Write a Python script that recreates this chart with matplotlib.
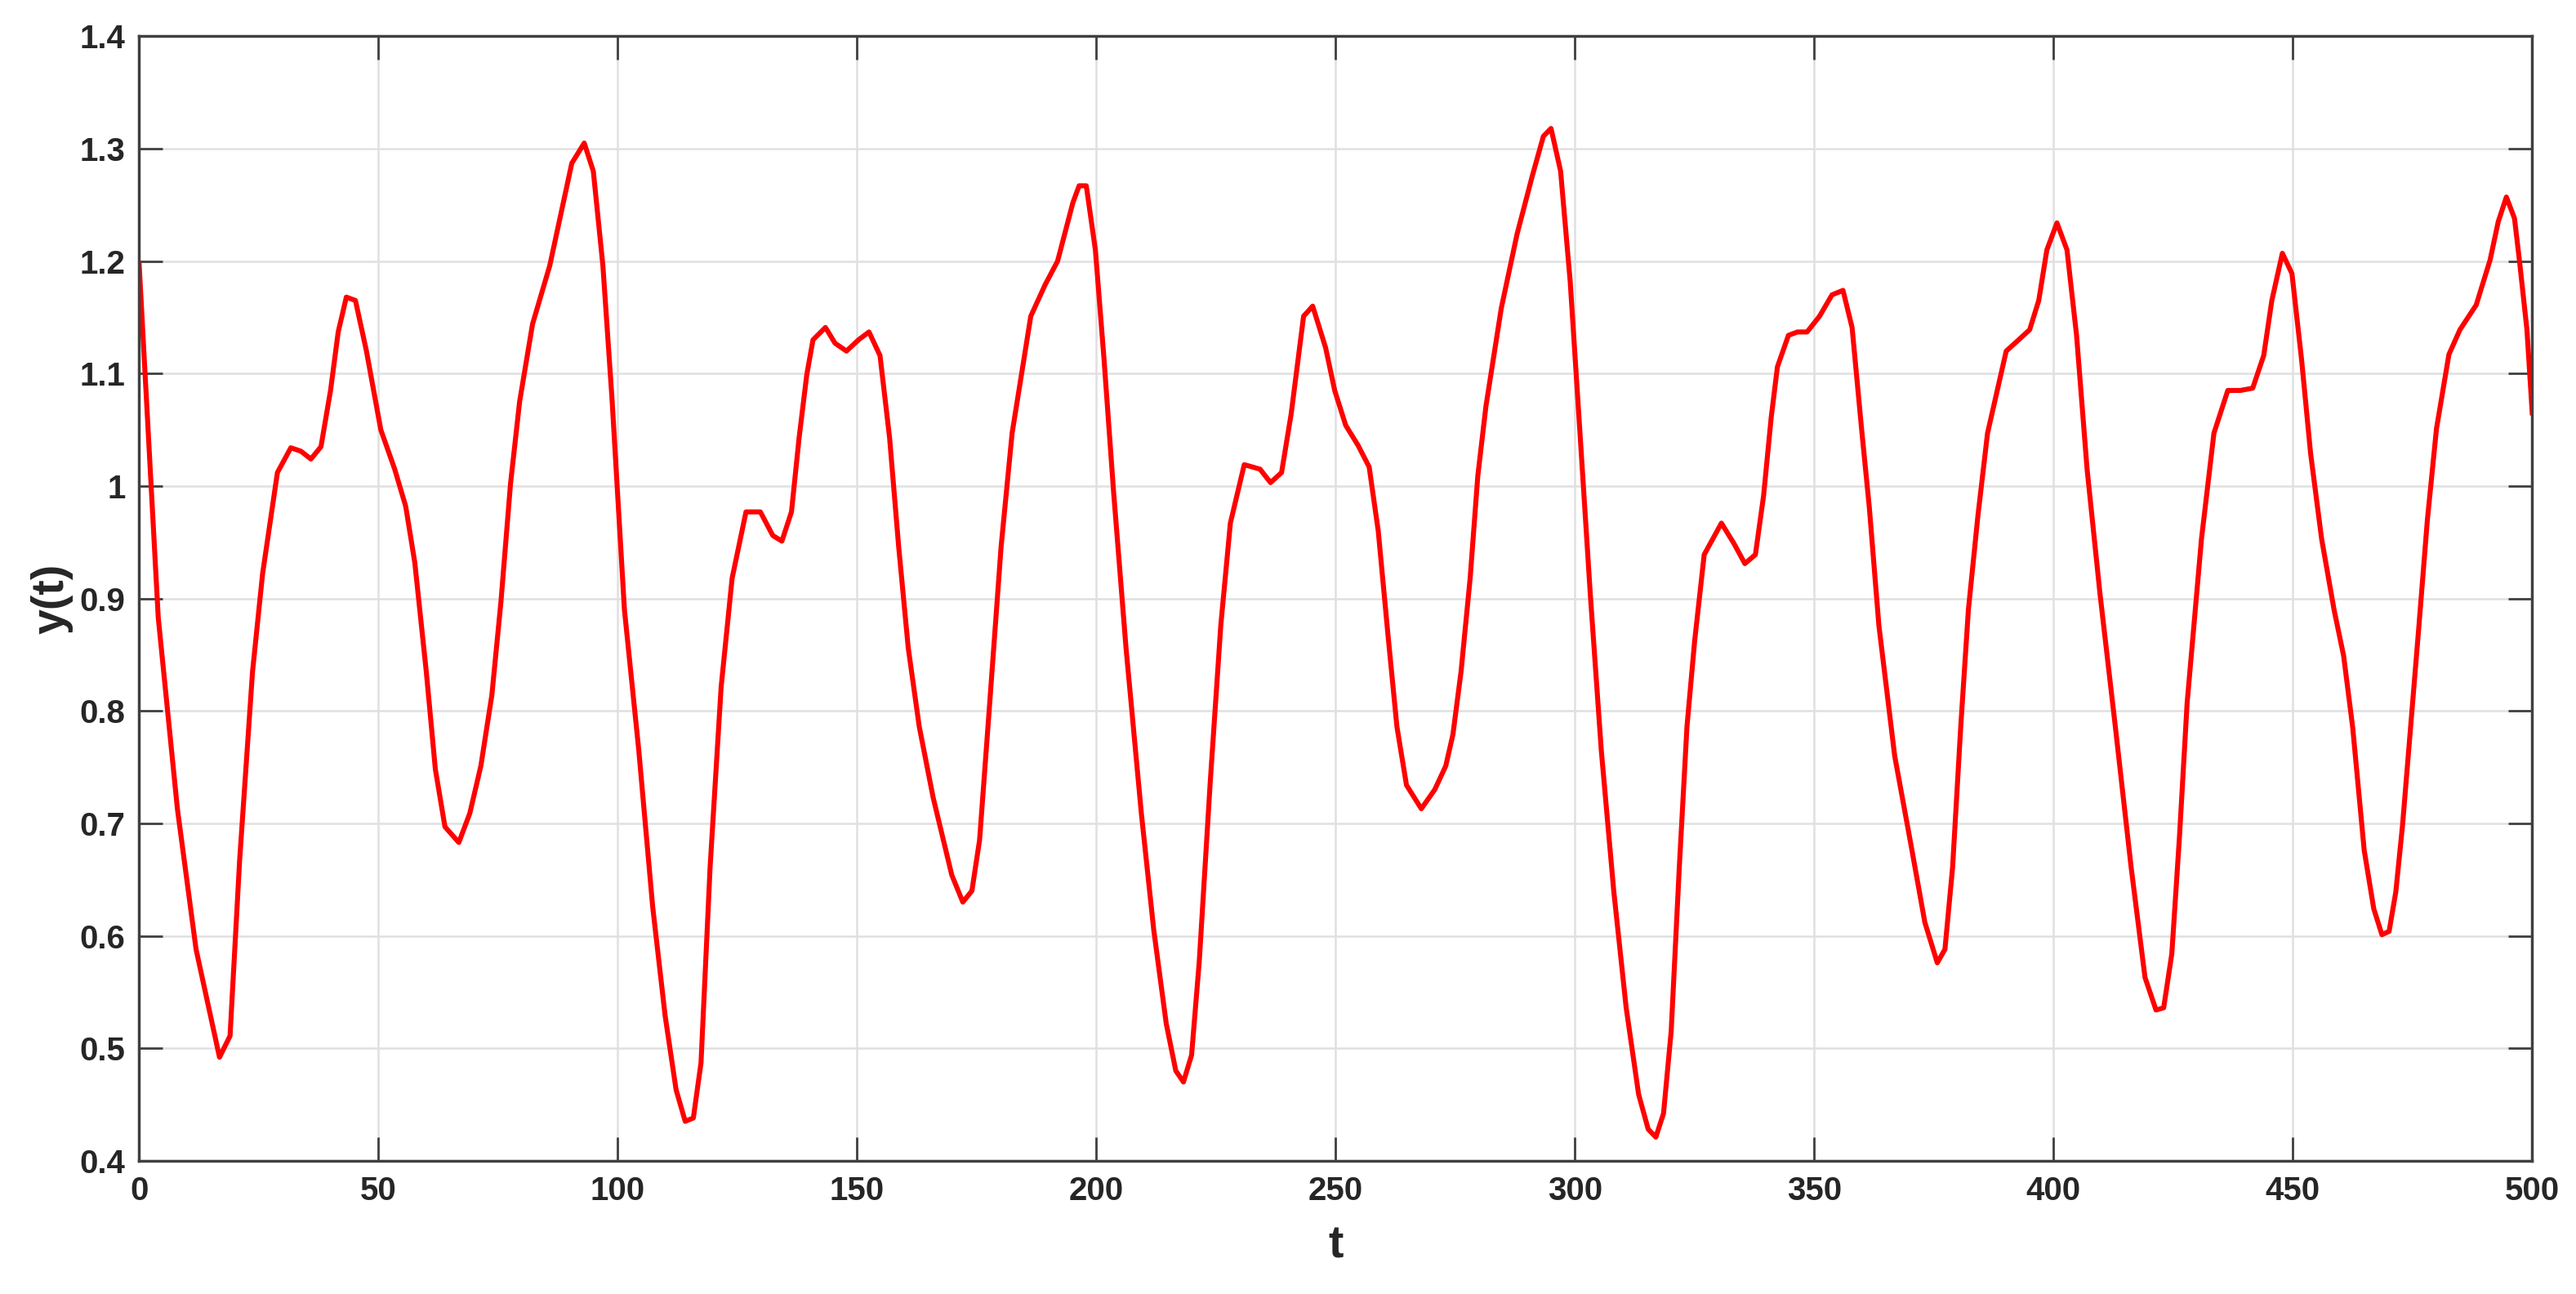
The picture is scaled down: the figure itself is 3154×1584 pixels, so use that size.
import matplotlib
matplotlib.use("Agg")
import matplotlib.pyplot as plt
import numpy as np

# values
t = [0, 4, 8, 11.9, 16.8, 19, 21, 23.7, 25.8, 28.9, 31.7, 33.8, 35.9, 38, 40, 41.6, 43.3, 45.2,
     47.5, 50.5, 53.4, 55.7, 57.6, 60, 61.9, 63.9, 66.8, 69.1, 71.4, 73.7, 75.6, 77.6, 79.5, 82.2,
     85.8, 90.4, 93, 94.9, 96.9, 98.8, 101.4, 104.4, 107.3, 109.9, 112.2, 114.1, 115.8, 117.4,
     119.3, 121.6, 123.9, 126.8, 129.8, 132.4, 134.3, 136.3, 137.9, 139.5, 140.8, 143.4, 145.4,
     147.8, 150.3, 152.5, 154.8, 156.8, 158.7, 160.7, 163, 165.9, 169.8, 172.1, 174, 175.6, 177.6,
     180.1, 182.4, 186.3, 189.3, 191.9, 195.1, 196.4, 197.9, 199.8, 201.6, 203.6, 206.2, 209.4,
     212, 214.6, 216.6, 218.2, 219.9, 221.5, 223.8, 226, 228, 230.9, 234.2, 236.4, 238.7, 240.7,
     243.3, 245.2, 247.9, 249.8, 252.1, 254.7, 257, 258.9, 260.9, 262.8, 264.8, 267.9, 270.7, 273,
     274.5, 276.2, 278.1, 279.7, 281.4, 284.6, 287.9, 291.1, 293.4, 295, 297, 299, 300.9, 303.2,
     305.5, 308.1, 310.7, 313.3, 315.3, 316.9, 318.5, 320.1, 321.8, 323.4, 325, 327, 330.6, 333.2,
     335.5, 337.7, 339.4, 341, 342.3, 344.6, 346.5, 348.5, 351.1, 353.7, 356, 357.9, 359.9, 361.5,
     363.5, 366.8, 370.2, 373.1, 375.7, 377.3, 378.9, 380.6, 382.2, 384.2, 386.2, 390.1, 392.7,
     395, 396.9, 398.6, 400.7, 402.8, 404.8, 407, 409.7, 412.9, 416.2, 419.1, 421.4, 423, 424.7,
     426.3, 427.9, 430.9, 433.5, 436.4, 439, 441.6, 443.9, 445.6, 447.8, 449.8, 451.8, 453.7, 456,
     458.6, 460.6, 462.5, 464.9, 466.9, 468.6, 470.1, 471.5, 472.9, 474.6, 476.3, 478.1, 480,
     482.6, 484.9, 488.3, 491.2, 492.9, 494.6, 496.3, 497.4, 498.9, 500]
y = [1.198, 0.883, 0.713, 0.588, 0.492, 0.511, 0.667, 0.835, 0.922, 1.012, 1.034, 1.031, 1.024,
     1.035, 1.085, 1.137, 1.168, 1.165, 1.12, 1.05, 1.015, 0.982, 0.932, 0.835, 0.748, 0.697,
     0.683, 0.709, 0.751, 0.814, 0.897, 1.002, 1.075, 1.144, 1.196, 1.287, 1.305, 1.28, 1.196,
     1.078, 0.89, 0.765, 0.626, 0.529, 0.463, 0.435, 0.438, 0.487, 0.661, 0.821, 0.918, 0.977,
     0.977, 0.956, 0.951, 0.977, 1.043, 1.099, 1.13, 1.141, 1.127, 1.12, 1.13, 1.137, 1.116,
     1.043, 0.946, 0.856, 0.786, 0.723, 0.654, 0.63, 0.64, 0.685, 0.8, 0.946, 1.047, 1.151,
     1.179, 1.2, 1.252, 1.267, 1.267, 1.21, 1.113, 0.995, 0.856, 0.709, 0.605, 0.522, 0.48,
     0.47, 0.494, 0.577, 0.737, 0.876, 0.967, 1.019, 1.015, 1.003, 1.012, 1.064, 1.151, 1.16,
     1.123, 1.085, 1.054, 1.036, 1.017, 0.96, 0.869, 0.786, 0.734, 0.713, 0.73, 0.751, 0.779,
     0.835, 0.918, 1.009, 1.071, 1.158, 1.224, 1.276, 1.311, 1.318, 1.28, 1.182, 1.057, 0.904,
     0.765, 0.64, 0.536, 0.459, 0.428, 0.421, 0.442, 0.515, 0.661, 0.786, 0.862, 0.939, 0.967,
     0.949, 0.931, 0.939, 0.991, 1.061, 1.106, 1.134, 1.137, 1.137, 1.151, 1.17, 1.174, 1.141,
     1.05, 0.981, 0.876, 0.76, 0.681, 0.612, 0.576, 0.588, 0.661, 0.786, 0.89, 0.974, 1.047,
     1.12, 1.13, 1.139, 1.165, 1.21, 1.234, 1.21, 1.134, 1.015, 0.904, 0.786, 0.661, 0.563,
     0.534, 0.536, 0.584, 0.688, 0.807, 0.953, 1.047, 1.085, 1.085, 1.087, 1.116, 1.165, 1.207,
     1.189, 1.113, 1.029, 0.953, 0.89, 0.849, 0.785, 0.676, 0.624, 0.601, 0.604, 0.639, 0.698,
     0.786, 0.874, 0.97, 1.051, 1.117, 1.139, 1.161, 1.201, 1.235, 1.257, 1.238, 1.198, 1.139,
     1.065]

xticks = [0, 50, 100, 150, 200, 250, 300, 350, 400, 450, 500]
yticks = [0.4, 0.5, 0.6, 0.7, 0.8, 0.9, 1, 1.1, 1.2, 1.3, 1.4]
yticklabels = ['0.4', '0.5', '0.6', '0.7', '0.8', '0.9', '1', '1.1', '1.2', '1.3', '1.4']

plt.rcParams['font.family'] = ['Liberation Sans', 'DejaVu Sans']

fig = plt.figure(figsize=(15.77, 7.92), dpi=200)
ax = fig.add_axes([0.054, 0.103, 0.929, 0.869])

ax.plot(t, y, color='#ff0000', linewidth=2.2)

ax.set_xlim(0, 500)
ax.set_ylim(0.4, 1.4)
ax.set_xticks(xticks)
ax.set_yticks(yticks)
ax.set_yticklabels(yticklabels)
ax.grid(True, color='#e0e0e0', linewidth=0.9)
ax.set_axisbelow(True)

ax.tick_params(direction='in', length=10.4, width=1.0, color='#404040',
               top=True, right=True, labelsize=14.5, labelcolor='#262626')
ax.tick_params(axis='x', pad=6.5)
ax.tick_params(axis='y', pad=6)
for lab in ax.get_xticklabels() + ax.get_yticklabels():
    lab.set_fontweight('bold')
for sp in ax.spines.values():
    sp.set_linewidth(1.25)
    sp.set_color('#404040')

ax.set_xlabel('t', fontsize=20, fontweight='bold', color='#262626', labelpad=8)
ax.set_ylabel('y(t)', fontsize=20, fontweight='bold', color='#262626', labelpad=3)

fig.savefig('out.png', dpi=200)
